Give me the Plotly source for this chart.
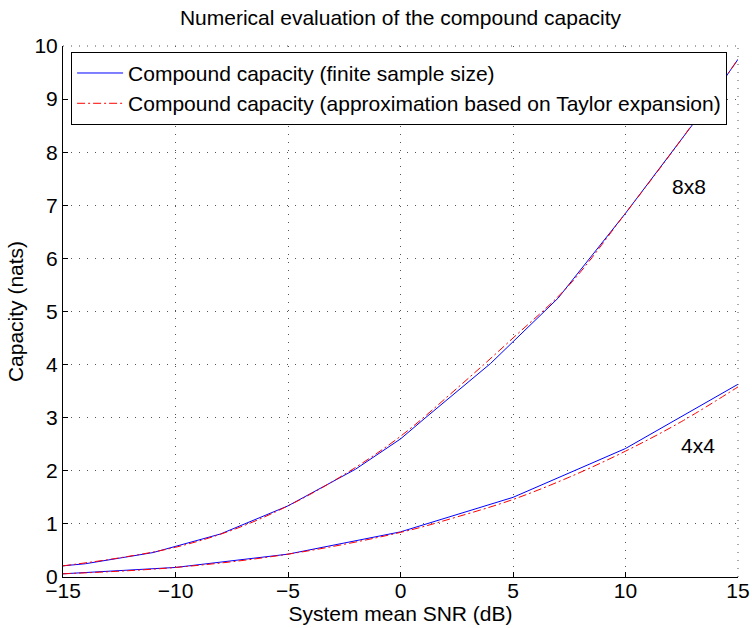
import plotly.graph_objects as go

# 8x8 system
snr_8_sim = [-15, -14, -11, -10, -8, -5, -2, 0, 1, 4, 7, 10, 13, 15]
cap_8_sim = [0.21, 0.25, 0.46, 0.58, 0.81, 1.34, 2.03, 2.6, 2.96, 4.02, 5.25, 6.85, 8.53, 9.75]
snr_8_apx = [-15, -12.5, -10, -7.5, -5, -2.5, 0, 2.5, 5, 7.5, 10, 12.5, 15]
cap_8_apx = [0.21, 0.36, 0.56, 0.88, 1.34, 1.93, 2.65, 3.55, 4.5, 5.5, 6.85, 8.25, 9.75]

# 4x4 system
snr_4_sim = [-15, -10, -5, 0, 5, 10, 15]
cap_4_sim = [0.06, 0.18, 0.43, 0.85, 1.5, 2.42, 3.63]
snr_4_apx = [-15, -10, -5, 0, 2.5, 5, 7.5, 10, 12.5, 15]
cap_4_apx = [0.06, 0.18, 0.43, 0.84, 1.13, 1.46, 1.88, 2.37, 2.93, 3.58]

x_ticks = [-15, -10, -5, 0, 5, 10, 15]
y_ticks = list(range(0, 11))

FONT = "Liberation Sans, Arial, Helvetica, sans-serif"
FS = 21
BLUE = "#0000FF"
RED = "#FF0000"
GRID = "#555555"
GDASH = "1px,7px"

fig = go.Figure()
fig.add_trace(go.Scatter(x=snr_8_sim, y=cap_8_sim, mode="lines",
                         line=dict(color=BLUE, width=1),
                         name="Compound capacity (finite sample size)",
                         legendgroup="sim"))
fig.add_trace(go.Scatter(x=snr_4_sim, y=cap_4_sim, mode="lines",
                         line=dict(color=BLUE, width=1),
                         showlegend=False, legendgroup="sim"))
fig.add_trace(go.Scatter(x=snr_8_apx, y=cap_8_apx, mode="lines",
                         line=dict(color=RED, width=1, dash="8px,3px,2px,3px", shape="spline"),
                         name="Compound capacity (approximation based on Taylor expansion)",
                         legendgroup="apx"))
fig.add_trace(go.Scatter(x=snr_4_apx, y=cap_4_apx, mode="lines",
                         line=dict(color=RED, width=1, dash="8px,3px,2px,3px", shape="spline"),
                         showlegend=False, legendgroup="apx"))

fig.add_annotation(x=12.8, y=7.35, text="8x8", showarrow=False,
                   font=dict(family=FONT, size=FS, color="black"))
fig.add_annotation(x=13.2, y=2.47, text="4x4", showarrow=False,
                   font=dict(family=FONT, size=FS, color="black"))

# dotted top/right frame (grid at range ends)
fig.add_shape(type="line", xref="paper", yref="paper", x0=0, x1=1, y0=1, y1=1,
              line=dict(color=GRID, width=1, dash=GDASH))
fig.add_shape(type="line", xref="paper", yref="paper", x0=1, x1=1, y0=0, y1=1,
              line=dict(color=GRID, width=1, dash=GDASH))

fig.update_layout(
    width=752, height=628,
    margin=dict(l=63, r=14, t=46, b=51, autoexpand=False),
    paper_bgcolor="white", plot_bgcolor="white",
    font=dict(family=FONT, size=FS, color="black"),
    title=dict(text="Numerical evaluation of the compound capacity",
               x=0.5, xref="paper", y=1 - 18 / 628, yanchor="middle",
               font=dict(family=FONT, size=FS)),
    legend=dict(x=0.012, y=0.989, xanchor="left", yanchor="top",
                bgcolor="white", bordercolor="black", borderwidth=1,
                font=dict(family=FONT, size=FS), itemwidth=46,
                tracegroupgap=0),
    showlegend=True,
)
fig.update_xaxes(range=[-15, 15], tickvals=x_ticks, ticks="inside", ticklen=5,
                 tickcolor="black", showline=True, linecolor="black", linewidth=1,
                 showgrid=True, gridcolor=GRID, griddash=GDASH, gridwidth=1,
                 zeroline=False, ticklabelstandoff=-5,
                 title=dict(text="System mean SNR (dB)", standoff=0,
                            font=dict(family=FONT, size=FS)),
                 tickfont=dict(family=FONT, size=FS))
fig.update_yaxes(range=[0, 10], tickvals=y_ticks, ticks="inside", ticklen=5,
                 tickcolor="black", showline=True, linecolor="black", linewidth=1,
                 showgrid=True, gridcolor=GRID, griddash=GDASH, gridwidth=1,
                 zeroline=False, ticklabelstandoff=0,
                 title=dict(text="Capacity (nats)", standoff=5,
                            font=dict(family=FONT, size=FS)),
                 tickfont=dict(family=FONT, size=FS))

fig.write_html("out.html")
